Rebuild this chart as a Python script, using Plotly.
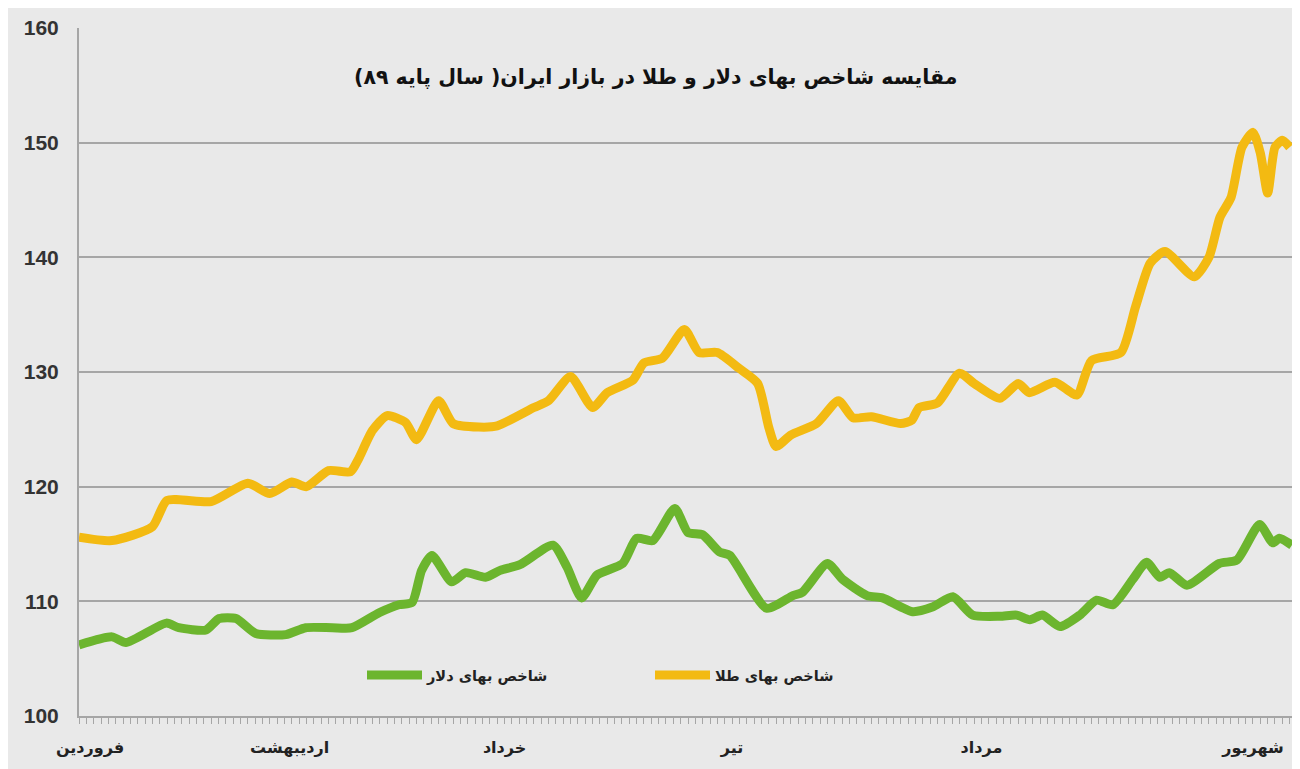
import plotly.graph_objects as go

# ---- data ----
gold_days = [0, 4.5, 10, 12, 18, 23, 26, 29, 31, 34,
             37, 38, 40, 42, 44.5, 46, 49, 51, 54.5, 57,
             62, 64, 67, 70, 72, 75.5, 77, 79.5, 82.5, 84.5,
             87, 90, 92.5, 94, 95, 97, 100.5, 103.5, 105.5, 108,
             112, 113.5, 114.5, 117, 120, 122, 125.5, 128, 129.5, 133,
             136, 138, 142, 144, 146, 148, 152, 154, 155.5, 157,
             158.5, 160, 161, 162, 163, 164, 165]
gold_values = [115.6, 115.3, 116.5, 118.8, 118.7, 120.3, 119.4, 120.4, 120.0, 121.4,
               121.3, 122.3, 124.9, 126.2, 125.6, 124.1, 127.5, 125.5, 125.2, 125.3,
               126.9, 127.5, 129.6, 126.9, 128.2, 129.3, 130.8, 131.2, 133.7, 131.7,
               131.7, 130.3, 129.0, 125.2, 123.5, 124.5, 125.5, 127.5, 126.0, 126.1,
               125.5, 125.8, 126.9, 127.3, 129.9, 129.0, 127.7, 129.0, 128.2, 129.1,
               128.0, 131.0, 131.7, 135.7, 139.5, 140.5, 138.3, 140.0, 143.5, 145.2,
               149.6, 150.9, 149.1, 145.6, 149.6, 150.2, 149.6]

usd_days = [0, 4.5, 6.4, 11.9, 13.6, 17.3, 19.1, 21.4, 24.1, 28.2,
            30.9, 34.5, 37.2, 40.9, 43.6, 45.4, 46.7, 48.1, 50.8, 52.7,
            55.4, 57.4, 60.1, 64.6, 66.5, 68.5, 70.6, 74.1, 76, 78.2,
            81.2, 83, 85, 87.3, 88.7, 93.7, 97.3, 98.6, 102, 104.1,
            107.4, 109.5, 113.6, 116.3, 119.1, 121.8, 125.5, 127.8, 129.6, 131.3,
            133.7, 136.4, 138.7, 140.9, 143.6, 145.5, 147.3, 148.6, 151, 155.4,
            157.8, 160.9, 162.7, 163.6, 165.3]
usd_values = [106.2, 106.9, 106.4, 108.1, 107.7, 107.5, 108.5, 108.5, 107.2, 107.1,
              107.7, 107.7, 107.7, 109.0, 109.7, 109.9, 112.7, 114.0, 111.7, 112.5,
              112.1, 112.7, 113.2, 114.9, 113.0, 110.3, 112.3, 113.3, 115.5, 115.3,
              118.1, 116.0, 115.8, 114.3, 114.0, 109.4, 110.5, 110.8, 113.3, 111.9,
              110.5, 110.3, 109.1, 109.5, 110.4, 108.8, 108.7, 108.8, 108.4, 108.8,
              107.8, 108.8, 110.1, 109.7, 111.9, 113.4, 112.1, 112.5, 111.4, 113.3,
              113.6, 116.7, 115.1, 115.5, 114.9]

month_positions = [1.5, 28.7, 58, 89, 123, 160]
month_labels = ["فروردین", "اردیبهشت", "خرداد", "تیر", "مرداد", "شهریور"]
y_ticks = [100, 110, 120, 130, 140, 150, 160]

title_text = "مقایسه شاخص بهای دلار و طلا در بازار ایران( سال پایه ۸۹)"
usd_name = "شاخص بهای دلار"
gold_name = "شاخص بهای طلا"

GREEN = "#6cb52e"
GOLD = "#f3ba12"
BG = "#e9e9e9"
FONT = "DejaVu Sans, Arial, sans-serif"

PW, PH = 1218, 688  # plot area size in px

fig = go.Figure()
fig.add_trace(go.Scatter(x=usd_days, y=usd_values, mode="lines", name="<b>" + usd_name + "</b>",
                         line=dict(color=GREEN, width=9, shape="spline", smoothing=0.6)))
fig.add_trace(go.Scatter(x=gold_days, y=gold_values, mode="lines", name="<b>" + gold_name + "</b>",
                         line=dict(color=GOLD, width=9, shape="spline", smoothing=0.6)))

fig.update_layout(
    width=1300, height=769,
    margin=dict(l=71, r=11, t=20, b=61, autoexpand=False),
    paper_bgcolor=BG,
    plot_bgcolor=BG,
    font=dict(family=FONT, color="#222222"),
    showlegend=True,
    legend=dict(orientation="h", x=(362 - 79) / PW, y=(716 - 675) / PH,
                xanchor="left", yanchor="middle",
                bgcolor="rgba(0,0,0,0)", itemwidth=55,
                entrywidth=218, entrywidthmode="pixels",
                font=dict(size=14.5, family=FONT, color="#222222")),
    annotations=[dict(text="<b>" + title_text + "</b>", xref="paper", yref="paper",
                      x=(655 - 79) / PW, y=(716 - 77) / PH, xanchor="center",
                      yanchor="middle", showarrow=False,
                      font=dict(size=20.5, family=FONT, color="#111111"))],
)

fig.update_xaxes(
    range=[0, 166],
    automargin=False,
    tickvals=month_positions,
    ticktext=["<b>" + t + "</b>" for t in month_labels],
    ticks="outside", ticklen=16, tickcolor="rgba(0,0,0,0)",
    tickfont=dict(size=16, family=FONT, color="#222222"),
    showgrid=False, zeroline=False,
    showline=True, linecolor="#a6a6a6", linewidth=2,
    minor=dict(ticks="outside", dtick=1, tick0=0, ticklen=6, tickcolor="#a6a6a6",
               tickwidth=1, showgrid=False),
)
fig.update_yaxes(
    range=[100, 160],
    automargin=False,
    tickvals=y_ticks,
    ticktext=["<b>%d</b>" % v for v in y_ticks],
    tickfont=dict(size=21, family="Liberation Sans, Arial, sans-serif", color="#333333"),
    ticks="outside", ticklen=14, tickcolor="rgba(0,0,0,0)",
    showgrid=True, gridcolor="#a6a6a6", gridwidth=2,
    zeroline=False, showline=True, linecolor="#a6a6a6", linewidth=2,
)

fig.write_html("out.html")
